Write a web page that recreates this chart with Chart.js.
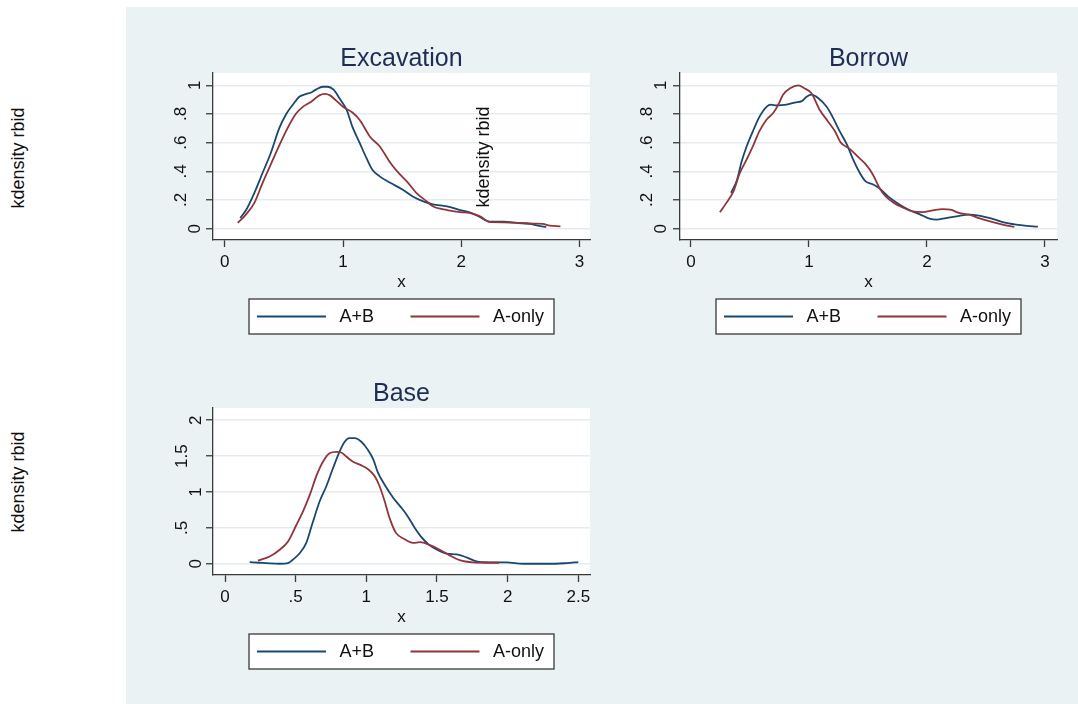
<!DOCTYPE html>
<html>
<head>
<meta charset="utf-8">
<script src="https://cdn.jsdelivr.net/npm/chart.js@4.4.1/dist/chart.umd.min.js"></script>
<style>
  body { margin: 0; background: #fff; width: 1078px; height: 704px; position: relative; overflow: hidden;
         font-family: "Liberation Sans", Arial, sans-serif; }
  #region { position: absolute; left: 126px; top: 7px; width: 952px; height: 697px; background: #eaf2f3; }
  canvas { position: absolute; }
  .ytitle { position: absolute; font-size: 18px; color: #111; white-space: nowrap; line-height: 1;
            transform: translate(-50%, -50%) rotate(-90deg); }
</style>
</head>
<body>
<div id="region"></div>
<canvas id="excavation" width="476" height="340" style="left:126px;top:7px"></canvas>
<canvas id="borrow" width="476" height="340" style="left:602px;top:7px"></canvas>
<canvas id="base" width="476" height="357" style="left:126px;top:347px"></canvas>
<div class="ytitle" style="left:17.5px;top:157.5px">kdensity rbid</div>
<div class="ytitle" style="left:17.5px;top:482px">kdensity rbid</div>

<script>
const seriesLabels = ['A+B', 'A-only'];

// kernel density curves, [x, density]
const excavationAB = [
  [0.13, 0.074], [0.18, 0.13], [0.25, 0.25], [0.32, 0.39], [0.39, 0.53], [0.46, 0.70],
  [0.52, 0.80], [0.58, 0.87], [0.63, 0.92], [0.69, 0.94], [0.73, 0.95], [0.77, 0.97],
  [0.83, 0.99], [0.87, 0.99], [0.92, 0.97], [0.97, 0.91], [1.03, 0.83], [1.08, 0.71],
  [1.14, 0.60], [1.20, 0.49], [1.25, 0.41], [1.31, 0.365], [1.40, 0.32], [1.51, 0.27],
  [1.59, 0.225], [1.68, 0.19], [1.76, 0.17], [1.88, 0.156], [1.99, 0.13], [2.07, 0.114],
  [2.16, 0.081], [2.24, 0.049], [2.36, 0.049], [2.47, 0.04], [2.58, 0.033], [2.65, 0.021],
  [2.72, 0.012]
];
const excavationAOnly = [
  [0.11, 0.04], [0.18, 0.10], [0.25, 0.18], [0.32, 0.32], [0.39, 0.45], [0.46, 0.58],
  [0.53, 0.70], [0.60, 0.80], [0.66, 0.85], [0.72, 0.88], [0.76, 0.905], [0.80, 0.93],
  [0.845, 0.94], [0.89, 0.93], [0.94, 0.895], [1.00, 0.85], [1.08, 0.81], [1.14, 0.76],
  [1.23, 0.64], [1.31, 0.575], [1.40, 0.46], [1.48, 0.38], [1.54, 0.33], [1.62, 0.25],
  [1.71, 0.19], [1.76, 0.156], [1.88, 0.13], [1.99, 0.116], [2.07, 0.11], [2.16, 0.086],
  [2.24, 0.047], [2.36, 0.044], [2.50, 0.04], [2.61, 0.035], [2.69, 0.033], [2.75, 0.021],
  [2.84, 0.016]
];

const borrowAB = [
  [0.34, 0.25], [0.39, 0.34], [0.43, 0.47], [0.47, 0.57], [0.53, 0.69], [0.58, 0.78],
  [0.64, 0.85], [0.68, 0.865], [0.72, 0.86], [0.81, 0.865], [0.88, 0.88], [0.94, 0.89],
  [0.98, 0.92], [1.02, 0.935], [1.08, 0.91], [1.15, 0.85], [1.20, 0.78], [1.26, 0.68],
  [1.32, 0.59], [1.37, 0.49], [1.43, 0.39], [1.48, 0.33], [1.54, 0.31], [1.60, 0.28],
  [1.67, 0.225], [1.77, 0.167], [1.85, 0.13], [1.94, 0.10], [2.02, 0.07], [2.08, 0.063],
  [2.16, 0.074], [2.25, 0.086], [2.36, 0.098], [2.44, 0.091], [2.55, 0.07], [2.67, 0.04],
  [2.81, 0.023], [2.94, 0.014]
];
const borrowAOnly = [
  [0.245, 0.114], [0.30, 0.18], [0.36, 0.26], [0.41, 0.38], [0.47, 0.48], [0.53, 0.585],
  [0.58, 0.68], [0.64, 0.76], [0.70, 0.81], [0.74, 0.865], [0.78, 0.935], [0.84, 0.98],
  [0.91, 1.0], [0.96, 0.98], [1.02, 0.946], [1.09, 0.83], [1.16, 0.75], [1.22, 0.68],
  [1.27, 0.60], [1.34, 0.56], [1.43, 0.49], [1.48, 0.45], [1.54, 0.38], [1.60, 0.28],
  [1.65, 0.225], [1.72, 0.18], [1.79, 0.15], [1.88, 0.12], [1.96, 0.116], [2.05, 0.128],
  [2.13, 0.137], [2.20, 0.133], [2.27, 0.11], [2.36, 0.098], [2.44, 0.074], [2.55, 0.047],
  [2.64, 0.028], [2.74, 0.012]
];

const baseAB = [
  [0.175, 0.023], [0.245, 0.014], [0.316, 0.005], [0.387, 0.0], [0.446, 0.009], [0.48, 0.056],
  [0.53, 0.15], [0.575, 0.29], [0.62, 0.57], [0.67, 0.87], [0.717, 1.08], [0.764, 1.33],
  [0.81, 1.56], [0.847, 1.70], [0.88, 1.75], [0.917, 1.75], [0.965, 1.70], [1.01, 1.59],
  [1.05, 1.45], [1.08, 1.28], [1.13, 1.10], [1.19, 0.92], [1.24, 0.80], [1.29, 0.67],
  [1.34, 0.51], [1.39, 0.37], [1.44, 0.27], [1.50, 0.195], [1.57, 0.14], [1.64, 0.13],
  [1.71, 0.088], [1.78, 0.032], [1.87, 0.019], [1.99, 0.019], [2.11, 0.0], [2.23, 0.0],
  [2.34, 0.0], [2.42, 0.009], [2.50, 0.023]
];
const baseAOnly = [
  [0.233, 0.042], [0.316, 0.10], [0.387, 0.195], [0.446, 0.31], [0.505, 0.54], [0.552, 0.73],
  [0.60, 0.96], [0.646, 1.22], [0.693, 1.42], [0.74, 1.54], [0.788, 1.56], [0.823, 1.55],
  [0.86, 1.49], [0.906, 1.42], [0.965, 1.37], [1.01, 1.32], [1.06, 1.22], [1.094, 1.08],
  [1.13, 0.87], [1.165, 0.636], [1.21, 0.43], [1.27, 0.343], [1.33, 0.29], [1.38, 0.30],
  [1.45, 0.26], [1.52, 0.195], [1.59, 0.116], [1.66, 0.051], [1.755, 0.019], [1.85, 0.014],
  [1.94, 0.014]
];

const unitXTicks = [0, 1, 2, 3];
const unitYTicks = [0, 0.2, 0.4, 0.6, 0.8, 1];
const baseXTicks = [0, 0.5, 1, 1.5, 2, 2.5];
const baseYTicks = [0, 0.5, 1, 1.5, 2];

const NAVY = '#1a476f';
const MAROON = '#90353b';
const AXIS = '#3a3a3a';
const GRID = '#e4ecef';
const INK = '#111111';
const FONT = '"Liberation Sans", Arial, sans-serif';

Chart.defaults.font.family = FONT;
Chart.defaults.color = INK;

// stata style numbers: 0, .2, .4 ... 1.5
const fmt = v => String(+(+v).toFixed(3)).replace(/^0\./, '.');
const toXY = pts => pts.map(([x, y]) => ({ x, y }));

const plotBg = {
  id: 'plotBg',
  beforeDraw(chart) {
    const { ctx, chartArea: a } = chart;
    ctx.save();
    ctx.fillStyle = '#ffffff';
    ctx.fillRect(a.left, a.top, a.width, a.height);
    ctx.restore();
  }
};

// boxed legend under the x title
const boxLegend = {
  id: 'boxLegend',
  afterDraw(chart) {
    const { ctx, chartArea: a } = chart;
    const w = 305, h = 35;
    const left = (a.left + a.right) / 2 - w / 2;
    const top = a.bottom + 59;
    ctx.save();
    ctx.fillStyle = '#ffffff';
    ctx.fillRect(left, top, w, h);
    ctx.strokeStyle = AXIS;
    ctx.lineWidth = 1.3;
    ctx.strokeRect(left, top, w, h);
    ctx.font = '18px ' + FONT;
    ctx.textBaseline = 'middle';
    chart.data.datasets.forEach((ds, i) => {
      const x0 = left + 8 + i * 153.5;
      const y = top + h / 2;
      ctx.strokeStyle = ds.borderColor;
      ctx.lineWidth = 1.8;
      ctx.beginPath();
      ctx.moveTo(x0, y);
      ctx.lineTo(x0 + 69, y);
      ctx.stroke();
      ctx.fillStyle = INK;
      ctx.fillText(ds.label, x0 + 82.5, y + 1);
    });
    ctx.restore();
  }
};

// stray axis title that ends up inside the plot
const yNote = {
  id: 'yNote',
  afterDatasetsDraw(chart, args, opts) {
    if (!opts || !opts.text) return;
    const { ctx, scales: { x, y } } = chart;
    ctx.save();
    ctx.translate(x.getPixelForValue(opts.at[0]), y.getPixelForValue(opts.at[1]));
    ctx.rotate(-Math.PI / 2);
    ctx.font = '18px ' + FONT;
    ctx.fillStyle = INK;
    ctx.textAlign = 'center';
    ctx.textBaseline = 'middle';
    ctx.fillText(opts.text, 0, 0);
    ctx.restore();
  }
};

function panel(id, p) {
  return new Chart(document.getElementById(id), {
    type: 'line',
    data: {
      datasets: [
        { label: seriesLabels[0], data: toXY(p.ab), borderColor: NAVY, order: 1 },
        { label: seriesLabels[1], data: toXY(p.aOnly), borderColor: MAROON, order: 0 }
      ]
    },
    options: {
      responsive: false,
      animation: false,
      layout: { padding: p.pad },
      elements: {
        point: { radius: 0 },
        line: { borderWidth: 1.8, cubicInterpolationMode: 'monotone', fill: false }
      },
      plugins: {
        legend: { display: false },
        tooltip: { enabled: false },
        title: {
          display: true, text: p.title, fullSize: false, color: '#1e2d53',
          font: { size: 25, weight: 'normal', lineHeight: '24px' },
          padding: { top: p.titleTop, bottom: 2 }
        },
        yNote: p.note || {}
      },
      scales: {
        x: {
          type: 'linear', min: p.xRange[0], max: p.xRange[1],
          afterBuildTicks: s => { s.ticks = p.xTicks.map(v => ({ value: v })); },
          afterFit: s => { s.height = 53; },
          grid: { drawOnChartArea: false, tickLength: 7, tickColor: AXIS, tickWidth: 1.3 },
          border: { color: AXIS, width: 1.3 },
          ticks: { font: { size: 17 }, padding: 5, maxRotation: 0, autoSkip: false, callback: fmt },
          title: { display: true, text: 'x', font: { size: 17 }, padding: 0 }
        },
        y: {
          min: p.yRange[0], max: p.yRange[1],
          afterBuildTicks: s => { s.ticks = p.yTicks.map(v => ({ value: v })); },
          afterFit: s => { s.width = p.yWidth; },
          grid: { color: GRID, lineWidth: 1.5, tickLength: 7, tickColor: AXIS, tickWidth: 1.3 },
          border: { color: AXIS, width: 1.3 },
          ticks: {
            font: { size: 17, lineHeight: '28px' }, padding: p.yPad, crossAlign: 'center',
            minRotation: 90, maxRotation: 90, autoSkip: false,
            // decimal labels sit a bit further out from the axis
            callback: v => { const s = fmt(v); return s.includes('.') ? [s, ''] : s; }
          }
        }
      }
    },
    plugins: [plotBg, boxLegend, yNote]
  });
}

panel('excavation', {
  title: 'Excavation', ab: excavationAB, aOnly: excavationAOnly,
  xRange: [-0.1, 3.09], yRange: [-0.079, 1.086], xTicks: unitXTicks, yTicks: unitYTicks,
  pad: { left: 0, right: 12, top: 0, bottom: 54 }, titleTop: 40, yWidth: 87, yPad: 3.2,
  note: { text: 'kdensity rbid', at: [2.19, 0.5] }
});

panel('borrow', {
  title: 'Borrow', ab: borrowAB, aOnly: borrowAOnly,
  xRange: [-0.093, 3.102], yRange: [-0.079, 1.086], xTicks: unitXTicks, yTicks: unitYTicks,
  pad: { left: 0, right: 21, top: 0, bottom: 54 }, titleTop: 40, yWidth: 78, yPad: 4.5
});

panel('base', {
  title: 'Base', ab: baseAB, aOnly: baseAOnly,
  xRange: [-0.085, 2.583], yRange: [-0.157, 2.17], xTicks: baseXTicks, yTicks: baseYTicks,
  pad: { left: 0, right: 12, top: 0, bottom: 76 }, titleTop: 35, yWidth: 87, yPad: -2
});
</script>
</body>
</html>
